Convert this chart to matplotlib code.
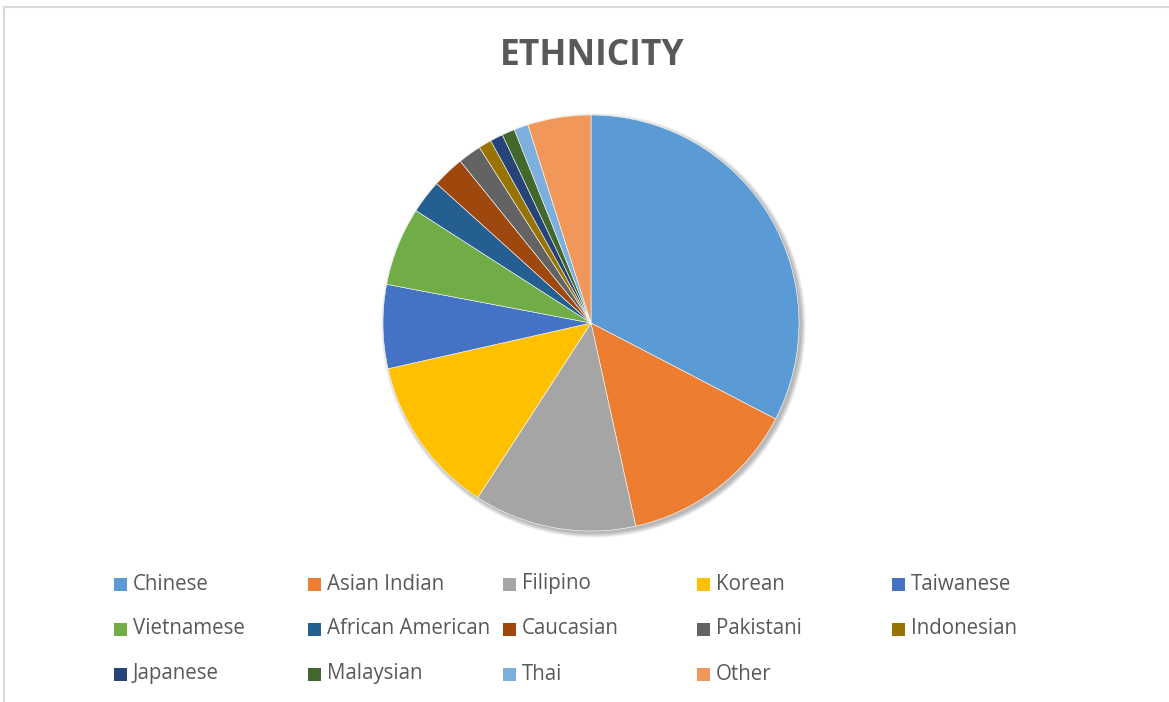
import matplotlib.pyplot as plt
from matplotlib.patches import Rectangle, Circle
from matplotlib.lines import Line2D

# Ethnicity shares (percent)
labels = ['Chinese', 'Asian Indian', 'Filipino', 'Korean', 'Taiwanese',
          'Vietnamese', 'African American', 'Caucasian', 'Pakistani', 'Indonesian',
          'Japanese', 'Malaysian', 'Thai', 'Other']
shares = [32.6, 13.9, 12.6, 12.3, 6.5, 6.1, 2.6, 2.5, 1.8, 1.0, 1.0, 1.0, 1.1, 4.9]
colors = ['#5B9BD5', '#ED7D31', '#A5A5A5', '#FFC000', '#4472C4',
          '#70AD47', '#255E91', '#9E480E', '#636363', '#997300',
          '#264478', '#43682B', '#7CAFDD', '#F1975A']

W, H = 1169, 702
fig = plt.figure(figsize=(W / 100, H / 100), dpi=100)
fig.patch.set_facecolor('white')

# light chart frame (top and left edges visible)
fig.add_artist(Line2D([4 / W, 1], [1 - 7 / H, 1 - 7 / H], color='#D9D9D9', lw=1.5))
fig.add_artist(Line2D([4 / W, 4 / W], [0, 1 - 7 / H], color='#D9D9D9', lw=1.5))

fig.text(592 / W, 1 - 56 / H, 'ETHNICITY', ha='center', va='center',
         fontsize=25.5, fontweight='bold', color='#595959', family='Open Sans')

# pie
cx, cy, r = 591, 323, 208
ax = fig.add_axes([(cx - r - 10) / W, (H - cy - r - 10) / H, (2 * r + 20) / W, (2 * r + 20) / H])
ax.set_aspect('equal')
ax.axis('off')

# soft shadow
for k in range(6):
    ax.add_patch(Circle((0.012, -0.012), 1 + 0.004 * k, color='black', alpha=0.05, lw=0))

ax.pie(shares, colors=colors, startangle=90, counterclock=False, radius=1,
       wedgeprops=dict(edgecolor='white', linewidth=0.4))
ax.set_xlim(-1 - 10 / r, 1 + 10 / r)
ax.set_ylim(-1 - 10 / r, 1 + 10 / r)

# legend, 5 equal columns
col_x = [114, 308, 503, 697, 892]
row_y = [584, 629, 674]
sq = 13
for i, (lab, c) in enumerate(zip(labels, colors)):
    x = col_x[i % 5]
    y = row_y[i // 5]
    fig.add_artist(Rectangle((x / W, (H - y - sq / 2) / H), sq / W, sq / H,
                             facecolor=c, edgecolor='none'))
    fig.text((x + sq + 6) / W, 1 - y / H, lab, ha='left', va='center',
             fontsize=14.8, color='#595959', family='Open Sans')

plt.savefig('out.png', dpi=100)
